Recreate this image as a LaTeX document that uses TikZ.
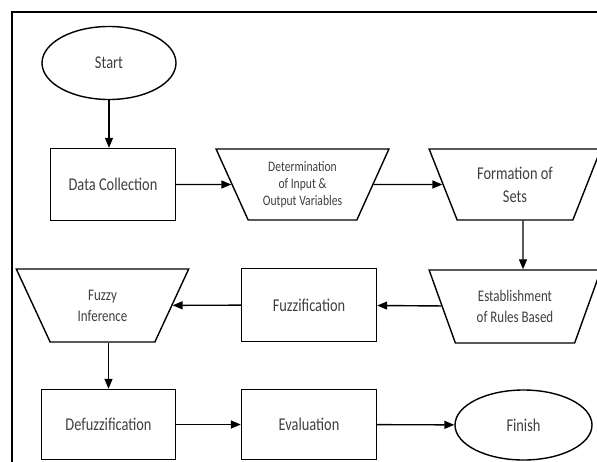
\documentclass[tikz,border=0pt]{standalone}
\usepackage{fontspec}
\newfontfamily\cf[FakeStretch=0.8]{Carlito}
\usetikzlibrary{shapes.geometric,arrows.meta}
\tikzset{
  base/.style={draw=black, line width=1.4pt, text=black!75, inner sep=2pt, align=center},
  box/.style={base, rectangle},
  oval/.style={base, ellipse, inner sep=0pt},
  trap/.style={base, trapezium, shape border rotate=180, trapezium stretches=true,
     trapezium left angle=64, trapezium right angle=64},
  big/.style={font=\cf\fontsize{18}{23}\selectfont},
  mid/.style={font=\cf\fontsize{16.2}{21}\selectfont},
  small/.style={font=\cf\fontsize{14.5}{17}\selectfont},
  arr/.style={draw=black, line width=1.4pt, -{Triangle[length=10pt,width=8pt]}},
}
\begin{document}
\begin{tikzpicture}[x=1pt,y=-1pt]
\path[use as bounding box, clip] (0,0) rectangle (597,461);
\fill[white] (0,0) rectangle (597,461);
\draw[line width=2pt] (12,490) -- (12,12) -- (640,12);

\node[oval, big, minimum width=134, minimum height=73] (start) at (109,63) {Start};
\node[box, big, minimum width=125, minimum height=72] (data) at (113,184.5) {Data Collection};
\node[trap, small, minimum width=173, minimum height=71] (det) at (302.5,184.5) {Determination\\of Input \&\\Output Variables};
\node[trap, big, minimum width=172, minimum height=71] (form) at (515,184.5) {Formation of\\Sets};
\node[trap, mid, minimum width=172, minimum height=73] (est) at (515,306.5) {Establishment\\of Rules Based};
\node[box, big, minimum width=135, minimum height=73] (fuzz) at (309,305) {Fuzzification};
\node[trap, mid, minimum width=173, minimum height=73] (inf) at (102.5,305.5) {Fuzzy\\Inference};
\node[box, big, minimum width=134, minimum height=70] (defuzz) at (108.5,424.5) {Defuzzification};
\node[box, big, minimum width=135, minimum height=70] (eval) at (309,424.5) {Evaluation};
\node[oval, big, minimum width=137, minimum height=70] (finish) at (523.5,425) {Finish};

\draw[arr] (start) -- (start |- data.north);
\draw[arr] (data) -- (det);
\draw[arr] (det) -- (form);
\draw[arr] ([xshift=8pt]form.south) -- ([xshift=8pt]est.north);
\draw[arr] (est) -- (fuzz);
\draw[arr] (fuzz) -- (inf);
\draw[arr] (inf.south -| defuzz) -- (defuzz.north);
\draw[arr] (defuzz) -- (eval);
\draw[arr] (eval) -- (finish);
\end{tikzpicture}
\end{document}
